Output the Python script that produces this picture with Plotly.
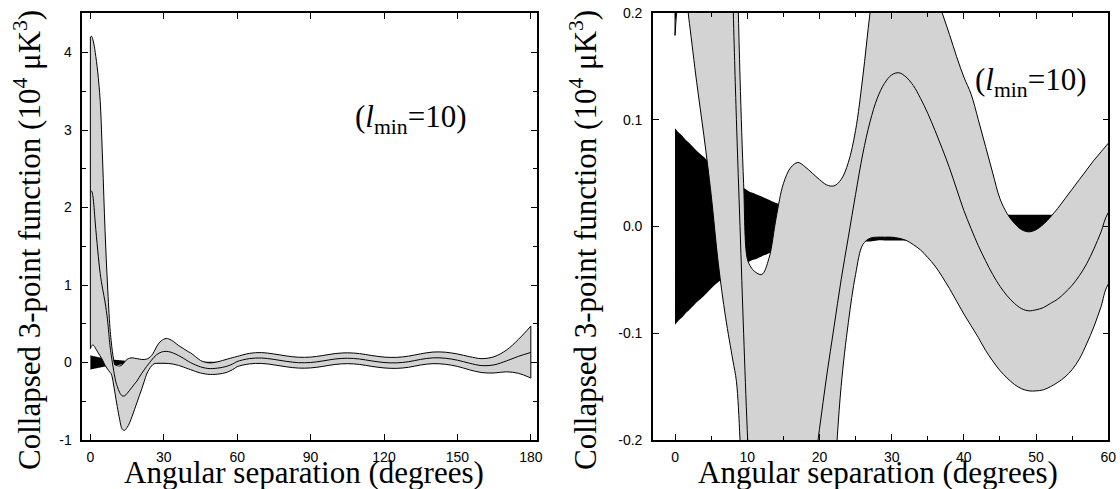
import plotly.graph_objects as go

# Angular separation grid (degrees)
angle = [0, 0.5, 1, 1.5, 2, 3, 4, 5, 6, 7, 8, 8.5, 9, 9.5, 10, 10.5, 11,
         12, 13, 14, 15, 16, 17, 18, 19, 20, 21, 22, 23, 24, 25, 26, 27, 28, 29,
         30, 31, 32, 33, 34, 35, 36, 37, 38, 39, 40, 41, 42, 43, 44, 45, 46, 47,
         48, 49, 50, 51, 52, 53, 54, 55, 56, 57, 58, 59, 60,
         65, 70, 75, 80, 85, 90, 95, 100, 105, 110, 115, 120, 125, 130, 135,
         140, 145, 150, 155, 160, 165, 170, 175, 180]

# Upper edge of grey band (10^4 uK^3)
band_upper = [4.20, 4.21, 4.17, 4.10, 4.00, 3.75, 3.38, 2.60, 1.70, 1.00, 0.45, 0.28, 0.14, 0.04, -0.030, -0.038, -0.042,
              -0.045, -0.030, 0.008, 0.040, 0.055, 0.060, 0.056, 0.050, 0.044, 0.039, 0.038, 0.044, 0.060, 0.090, 0.140, 0.200, 0.250, 0.280,
              0.300, 0.310, 0.305, 0.290, 0.270, 0.245, 0.220, 0.200, 0.180, 0.159, 0.140, 0.124, 0.100, 0.075, 0.050, 0.026, 0.012, 0.003,
              -0.003, -0.005, -0.003, 0.002, 0.009, 0.017, 0.026, 0.035, 0.044, 0.053, 0.062, 0.070, 0.078,
              0.118, 0.128, 0.110, 0.085, 0.068, 0.070, 0.090, 0.115, 0.125, 0.115, 0.090, 0.070, 0.066, 0.082, 0.112,
              0.135, 0.133, 0.110, 0.075, 0.050, 0.075, 0.160, 0.300, 0.470]

# Central curve
band_mean = [2.20, 2.21, 2.15, 2.00, 1.80, 1.45, 1.15, 0.95, 0.78, 0.55, 0.22, 0.10, 0.00, -0.10, -0.19, -0.26, -0.31,
             -0.39, -0.43, -0.43, -0.40, -0.36, -0.32, -0.28, -0.24, -0.19, -0.14, -0.095, -0.05, -0.01, 0.03, 0.068, 0.098, 0.120, 0.134,
             0.142, 0.144, 0.140, 0.132, 0.120, 0.106, 0.090, 0.073, 0.055, 0.035, 0.015, -0.002, -0.018, -0.032, -0.045, -0.056, -0.065, -0.072,
             -0.077, -0.079, -0.078, -0.076, -0.072, -0.068, -0.062, -0.055, -0.046, -0.035, -0.021, -0.005, 0.013,
             0.050, 0.058, 0.040, 0.015, -0.002, 0.000, 0.020, 0.045, 0.055, 0.045, 0.020, 0.000, -0.005, 0.010, 0.040,
             0.060, 0.055, 0.030, -0.010, -0.040, -0.030, 0.020, 0.080, 0.130]

# Lower edge of grey band
band_lower = [0.179, 0.215, 0.225, 0.215, 0.190, 0.135, 0.085, 0.030, -0.035, -0.085, -0.125, -0.145, -0.20, -0.29, -0.38, -0.48, -0.57,
              -0.74, -0.86, -0.875, -0.84, -0.78, -0.70, -0.61, -0.52, -0.43, -0.34, -0.245, -0.15, -0.09, -0.045, -0.017, -0.011, -0.010, -0.010,
              -0.010, -0.011, -0.013, -0.017, -0.022, -0.029, -0.037, -0.047, -0.058, -0.070, -0.082, -0.093, -0.104, -0.116, -0.126, -0.135, -0.142, -0.148,
              -0.152, -0.154, -0.154, -0.153, -0.150, -0.146, -0.141, -0.134, -0.124, -0.110, -0.094, -0.075, -0.054,
              -0.018, -0.012, -0.030, -0.055, -0.072, -0.070, -0.050, -0.025, -0.015, -0.025, -0.050, -0.070, -0.076, -0.062, -0.032,
              -0.015, -0.023, -0.050, -0.095, -0.130, -0.135, -0.120, -0.140, -0.200]

# Black band (upper and lower edges)
black_top = [0.092, 0.088, 0.085, 0.081, 0.078, 0.071, 0.065, 0.058, 0.052, 0.047, 0.042, 0.040, 0.038, 0.036, 0.034, 0.032, 0.031,
             0.028, 0.025, 0.022, 0.020, 0.019, 0.018, 0.017, 0.017, 0.016, 0.016, 0.015, 0.015, 0.015, 0.014, 0.014, 0.014, 0.013, 0.013,
             0.013, 0.013, 0.013, 0.012, 0.012, 0.012, 0.012, 0.012, 0.012, 0.012, 0.012, 0.012, 0.011, 0.011, 0.011, 0.011, 0.011, 0.011,
             0.011, 0.011, 0.011, 0.011, 0.011, 0.011, 0.011, 0.011, 0.011, 0.011, 0.011, 0.011, 0.011,
             0.011, 0.010, 0.010, 0.010, 0.010, 0.010, 0.010, 0.010, 0.010, 0.010, 0.010, 0.010, 0.010, 0.010, 0.010,
             0.010, 0.010, 0.010, 0.010, 0.010, 0.010, 0.010, 0.010, 0.010]
black_bot = [-0.092, -0.088, -0.085, -0.081, -0.078, -0.071, -0.065, -0.058, -0.052, -0.047, -0.042, -0.040, -0.038, -0.036, -0.034, -0.032, -0.031,
             -0.028, -0.025, -0.022, -0.020, -0.019, -0.018, -0.017, -0.017, -0.016, -0.016, -0.015, -0.015, -0.015, -0.014, -0.014, -0.014, -0.013, -0.013,
             -0.013, -0.013, -0.013, -0.012, -0.012, -0.012, -0.012, -0.012, -0.012, -0.012, -0.012, -0.012, -0.011, -0.011, -0.011, -0.011, -0.011, -0.011,
             -0.011, -0.011, -0.011, -0.011, -0.011, -0.011, -0.011, -0.011, -0.011, -0.011, -0.011, -0.011, -0.011,
             -0.011, -0.010, -0.010, -0.010, -0.010, -0.010, -0.010, -0.010, -0.010, -0.010, -0.010, -0.010, -0.010, -0.010, -0.010,
             -0.010, -0.010, -0.010, -0.010, -0.010, -0.010, -0.010, -0.010, -0.010]

# Tick labels
left_xticks = [0, 30, 60, 90, 120, 150, 180]
left_yticks = [-1, 0, 1, 2, 3, 4]
left_ytext = ["-1", "0", "1", "2", "3", "4"]
right_xticks = [0, 10, 20, 30, 40, 50, 60]
right_yticks = [-0.2, -0.1, 0.0, 0.1, 0.2]
right_ytext = ["-0.2", "-0.1", "0.0", "0.1", "0.2"]

GREY = "#d3d3d3"
W, H = 1120, 489

fig = go.Figure()

def add_panel(xa, ya):
    common = dict(xaxis=xa, yaxis=ya, mode="lines", hoverinfo="skip", showlegend=False)
    fig.add_trace(go.Scatter(x=angle, y=black_bot, line=dict(width=0, shape="spline", color="black"), **common))
    fig.add_trace(go.Scatter(x=angle, y=black_top, fill="tonexty", fillcolor="black",
                             line=dict(width=0, shape="spline", color="black"), **common))
    fig.add_trace(go.Scatter(x=angle, y=band_lower, line=dict(width=1, shape="spline", color="black"), **common))
    fig.add_trace(go.Scatter(x=angle, y=band_upper, fill="tonexty", fillcolor=GREY,
                             line=dict(width=1, shape="spline", color="black"), **common))
    fig.add_trace(go.Scatter(x=angle, y=band_mean, line=dict(width=1, shape="spline", color="black"), **common))
    # closing edges of the grey band at both ends
    fig.add_trace(go.Scatter(x=[angle[0], angle[0]], y=[band_lower[0], band_upper[0]],
                             line=dict(width=1, color="black"), **common))
    fig.add_trace(go.Scatter(x=[angle[-1], angle[-1]], y=[band_lower[-1], band_upper[-1]],
                             line=dict(width=1, color="black"), **common))

add_panel("x", "y")
add_panel("x2", "y2")

tickfont = dict(family="Liberation Sans, Arial, sans-serif", size=14, color="black")
axis_common = dict(showline=True, linecolor="black", linewidth=1.6, mirror="ticks",
                   ticks="inside", ticklen=6, tickwidth=1, tickcolor="black",
                   showgrid=False, zeroline=False, tickfont=tickfont)

ybot = 1 - 440 / H
ytop = 1 - 13 / H

fig.update_layout(
    width=W, height=H,
    margin=dict(l=0, r=0, t=0, b=0, autoexpand=False),
    paper_bgcolor="white", plot_bgcolor="white",
    xaxis=dict(domain=[82.3 / W, 536.7 / W], range=[-3.3, 182.4], tickvals=left_xticks, anchor="y",
               ticklabelstandoff=3, **axis_common),
    yaxis=dict(domain=[ybot, ytop], range=[-1, 4.51], tickvals=left_yticks, ticktext=left_ytext, anchor="x",
               ticklabelstandoff=6,
               minor=dict(dtick=0.5, ticks="inside", ticklen=4, tickcolor="black"), **axis_common),
    xaxis2=dict(domain=[653 / W, 1108.3 / W], range=[-3.05, 60], tickvals=right_xticks, anchor="y2",
                ticklabelstandoff=3,
                minor=dict(dtick=5, ticks="inside", ticklen=4, tickcolor="black"), **axis_common),
    yaxis2=dict(domain=[ybot, ytop], range=[-0.2, 0.2], tickvals=right_yticks, ticktext=right_ytext, anchor="x2",
                ticklabelstandoff=6, **axis_common),
)

serif = "Liberation Serif, Times New Roman, serif"
ytitle = "Collapsed 3-point function (10<sup>4</sup> μK<sup>3</sup>)"
xtitle = "Angular separation (degrees)"
label = "(<i>l</i><sub>min</sub>=10)"

ann = [
    dict(x=27 / W, y=1 - 240 / H, text=ytitle, textangle=-90),
    dict(x=583 / W, y=1 - 240 / H, text=ytitle, textangle=-90),
    dict(x=304 / W, y=1 - 472 / H, text=xtitle),
    dict(x=878 / W, y=1 - 472 / H, text=xtitle),
]
for a in ann:
    fig.add_annotation(xref="paper", yref="paper", xanchor="center", yanchor="middle", showarrow=False,
                       font=dict(family=serif, size=31, color="black"), **a)

fig.add_annotation(xref="paper", yref="paper", x=411 / W, y=1 - 119 / H, text=label, showarrow=False,
                   xanchor="center", yanchor="middle", font=dict(family=serif, size=31, color="black"))
fig.add_annotation(xref="paper", yref="paper", x=1031 / W, y=1 - 82 / H, text=label, showarrow=False,
                   xanchor="center", yanchor="middle", font=dict(family=serif, size=31, color="black"))

fig.write_html("out.html", config={"displayModeBar": False},
               post_script=("document.documentElement.style.margin='0';"
                            "document.documentElement.style.overflow='hidden';"
                            "document.body.style.margin='0';document.body.style.overflow='hidden';"
                            "document.querySelectorAll('svg.main-svg').forEach(function(s){s.style.overflow='hidden';});"))
